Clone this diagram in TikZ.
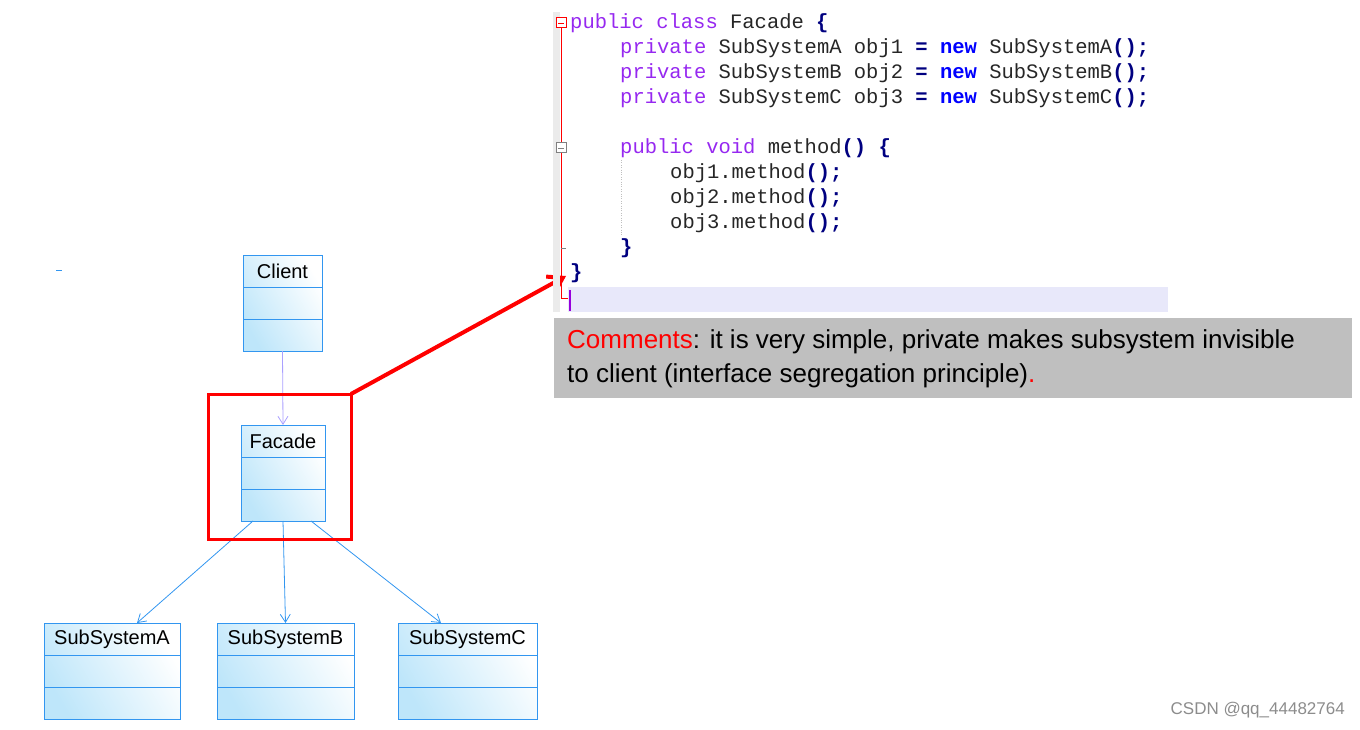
\documentclass[tikz,border=0pt]{standalone}
\usepackage{fontspec}
\setmainfont{Liberation Sans}
\newfontfamily\mono{Liberation Mono}
\usetikzlibrary{arrows.meta}
\definecolor{kw}{RGB}{150,40,240}
\definecolor{nv}{RGB}{0,0,128}
\definecolor{bl}{RGB}{0,0,255}
\definecolor{uml}{RGB}{50,150,240}
\definecolor{umlfill}{RGB}{190,230,250}
\definecolor{dep}{RGB}{170,160,255}
\definecolor{hl}{RGB}{232,232,250}
\definecolor{cur}{RGB}{150,0,220}
\definecolor{cbox}{RGB}{191,191,191}
\newcommand{\kwd}[1]{\textcolor{kw}{#1}}
\newcommand{\nvb}[1]{\textcolor{nv}{\bfseries #1}}
\newcommand{\nwb}[1]{\textcolor{bl}{\bfseries #1}}
\begin{document}
\begin{tikzpicture}[x=1pt,y=-1pt,
  cls/.style={draw=uml,line width=1pt,left color=white,right color=umlfill,shading angle=-60},
  lbl/.style={font=\fontsize{20}{22}\selectfont,inner sep=0pt},
  code/.style={font=\mono\fontsize{20.5}{25}\selectfont,anchor=west,inner sep=0pt,text=black!85},
  link/.style={draw=uml,line width=0.8pt,-{Straight Barb[length=8pt,width=10pt]}}]
\useasboundingbox (0,0) rectangle (1360,730);
% UML classes
\foreach \n/\xa/\xb/\ya/\t in {cl/243/322/255/Client,fa/241/325/425/Facade,sa/44/180/623/SubSystemA,sb/217/354/623/SubSystemB,sc/398/537/623/SubSystemC}{
  \path[cls] (\xa,\ya) rectangle (\xb,\ya+96);
  \draw[uml,line width=1pt] (\xa,\ya+32) -- (\xb,\ya+32) (\xa,\ya+64) -- (\xb,\ya+64);
  \node[lbl] (\n) at ({(\xa+\xb)/2},\ya+16) {\t};
  \coordinate (\n-top) at ({(\xa+\xb)/2},\ya);
  \coordinate (\n-bot) at ({(\xa+\xb)/2},\ya+96);
}
\coordinate (faA) at (253,521);
\coordinate (faC) at (311,521);
\coordinate (saT) at (137,623);
\coordinate (scT) at (441,623);
\draw[link,draw=dep] (cl-bot) -- (fa-top);
\draw[link] (faA) -- (saT);
\draw[link] (fa-bot) -- (sb-top);
\draw[link] (faC) -- (scT);
\draw[uml,line width=1pt] (56,270) -- (62,270);
% red box and arrow
\draw[red,line width=3pt] (208,394) rectangle (351,539);
\coordinate (rb) at (351,394);
\coordinate (codeend) at (566,276);
\draw[red,line width=4pt,-{Straight Barb[length=14pt,width=18pt,line width=4pt]}] (rb) -- (codeend);
% code editor
\fill[black!8] (553,12) rectangle (560,312);
\fill[hl] (568,287) rectangle (1168,312);
\draw[cur,line width=1.2pt] (570,290) -- (570,311);
\draw[red,line width=1pt] (561,28) -- (561,298) -- (568,298);
\draw[red,line width=1pt,fill=white] (556,18) rectangle (566,28);
\draw[red] (558,23) -- (564,23);
\draw[gray,line width=1pt,fill=white] (556,143) rectangle (566,153);
\draw[gray] (558,148) -- (564,148);
\draw[gray] (561,248) -- (566,248);
\draw[gray!50,dotted] (621,160) -- (621,236);
\node[code] (l1) at (570,23) {\kwd{public class} Facade \nvb{\{}};
\node[code] (l2) at (620,48) {\kwd{private} SubSystemA obj1 \nvb{=} \nwb{new} SubSystemA\nvb{();}};
\node[code] (l3) at (620,73) {\kwd{private} SubSystemB obj2 \nvb{=} \nwb{new} SubSystemB\nvb{();}};
\node[code] (l4) at (620,98) {\kwd{private} SubSystemC obj3 \nvb{=} \nwb{new} SubSystemC\nvb{();}};
\node[code] (l5) at (620,148) {\kwd{public void} method\nvb{()} \nvb{\{}};
\node[code] (l6) at (670,173) {obj1.method\nvb{();}};
\node[code] (l7) at (670,198) {obj2.method\nvb{();}};
\node[code] (l8) at (670,223) {obj3.method\nvb{();}};
\node[code] (l9) at (620,248) {\nvb{\}}};
\node[code] (l10) at (570,273) {\nvb{\}}};
% comment box
\fill[cbox] (554,318) rectangle (1352,398);
\node[anchor=west,inner sep=0pt,font=\fontsize{26}{34}\selectfont,align=left] (cm) at (567,359)
 {\textcolor{red}{Comments}: it is very simple, private makes subsystem invisible\\to client (interface segregation principle)\textcolor{red}{.}};
\node[anchor=east,inner sep=0pt,text=black!45,font=\fontsize{17}{20}\selectfont] (wm) at (1345,710) {CSDN @qq\_44482764};
\end{tikzpicture}
\end{document}
